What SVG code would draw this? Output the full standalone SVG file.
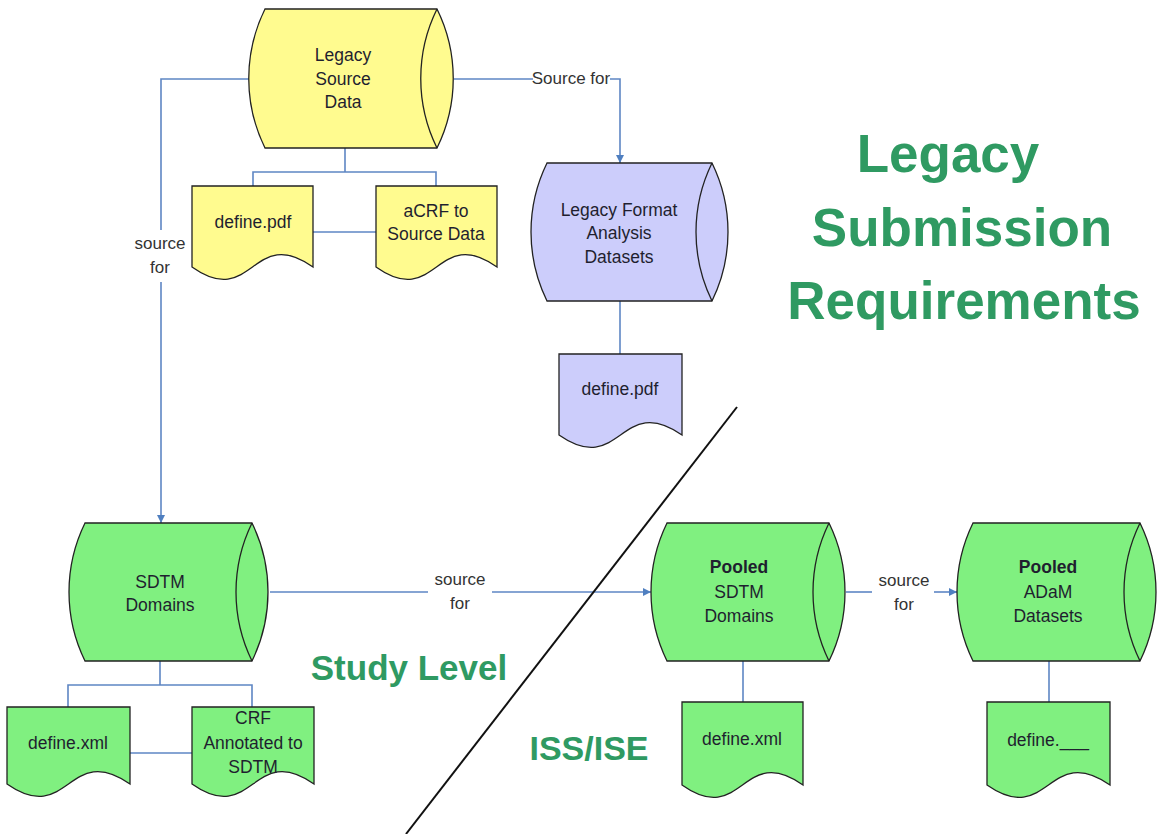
<svg xmlns="http://www.w3.org/2000/svg" width="1157" height="834" viewBox="0 0 1157 834">
<defs>
<marker id="arr" viewBox="0 0 10 10" refX="10" refY="5" markerWidth="8" markerHeight="8" markerUnits="userSpaceOnUse" orient="auto"><path d="M0,0 L10,5 L0,10 Z" fill="#4f7fc0"/></marker>
<style>
.shape{stroke:#222;stroke-width:1.3}
.yel{fill:#fffb8f}
.pur{fill:#cccdfb}
.grn{fill:#80f080}
.inner{fill:none;stroke:#222;stroke-width:1.3}
.con{fill:none;stroke:#5e86c4;stroke-width:1.6}
.t{font-family:"Liberation Sans",Arial,sans-serif;font-size:17.5px;fill:#1f1f2f;text-anchor:middle}
.b{font-weight:bold}
.lbl{font-family:"Liberation Sans",Arial,sans-serif;font-size:17px;fill:#333;text-anchor:middle}
.big{font-family:"Liberation Sans",Arial,sans-serif;font-weight:bold;fill:#2f9a62;text-anchor:middle}
</style>
</defs>
<rect width="1157" height="834" fill="#fff"/>

<g id="connectors">
<path class="con" d="M250,79 H161 V230"/>
<path class="con" d="M161,282 V523" marker-end="url(#arr)"/>
<path class="con" d="M454,79 H533"/>
<path class="con" d="M610,79 H620 V163" marker-end="url(#arr)"/>
<path class="con" d="M345,148 V172 M253,186 V172 H436 V186"/>
<path class="con" d="M313,232 H376"/>
<path class="con" d="M620,301 V354"/>
<path class="con" d="M160,661 V685 M68,707 V685 H252 V707"/>
<path class="con" d="M130,753 H192"/>
<path class="con" d="M270,592 H428"/>
<path class="con" d="M492,592 H651" marker-end="url(#arr)"/>
<path class="con" d="M846,592 H872"/>
<path class="con" d="M934,592 H957" marker-end="url(#arr)"/>
<path class="con" d="M743,661 V702"/>
<path class="con" d="M1049,661 V702"/>
<text class="lbl" x="571" y="84">Source for</text>
<text class="lbl" x="160" y="249">source</text>
<text class="lbl" x="160" y="273">for</text>
<text class="lbl" x="460" y="585">source</text>
<text class="lbl" x="460" y="609">for</text>
<text class="lbl" x="904" y="586">source</text>
<text class="lbl" x="904" y="610">for</text>
</g>

<g id="legacy-source-data">
<path class="shape yel" d="M265,9 H437 A156.8,156.8 0 0 1 437,148 H265 A156.8,156.8 0 0 1 265,9 Z"/>
<path class="inner" d="M437,9 A156.8,156.8 0 0 0 437,148"/>
<text class="t" x="343" y="61">Legacy</text>
<text class="t" x="343" y="85">Source</text>
<text class="t" x="343" y="108">Data</text>
</g>

<g id="define-pdf-legacy">
<path class="shape yel" d="M192,186 H313 V267 C252.5,224 252.5,310 192,267 Z"/>
<text class="t" x="253" y="228">define.pdf</text>
</g>

<g id="acrf-source">
<path class="shape yel" d="M376,186 H497 V267 C436.5,224 436.5,310 376,267 Z"/>
<text class="t" x="436" y="217">aCRF to</text>
<text class="t" x="436" y="240">Source Data</text>
</g>

<g id="legacy-format-analysis">
<path class="shape pur" d="M547,163 H712 A156.8,156.8 0 0 1 712,301 H547 A156.8,156.8 0 0 1 547,163 Z"/>
<path class="inner" d="M712,163 A156.8,156.8 0 0 0 712,301"/>
<text class="t" x="619" y="216">Legacy Format</text>
<text class="t" x="619" y="239">Analysis</text>
<text class="t" x="619" y="263">Datasets</text>
</g>

<g id="define-pdf-analysis">
<path class="shape pur" d="M559,354 H682 V435 C620.5,392 620.5,478 559,435 Z"/>
<text class="t" x="620" y="395">define.pdf</text>
</g>

<g id="title">
<text class="big" x="948" y="172" font-size="53">Legacy</text>
<text class="big" x="962" y="246" font-size="53">Submission</text>
<text class="big" x="964" y="319" font-size="53">Requirements</text>
</g>

<g id="divider">
<line x1="737" y1="407" x2="406" y2="834" stroke="#111" stroke-width="2"/>
<text class="big" x="409" y="680" font-size="35">Study Level</text>
<text class="big" x="589" y="760" font-size="34">ISS/ISE</text>
</g>

<g id="sdtm-domains">
<path class="shape grn" d="M85,523 H252 A156.8,156.8 0 0 1 252,661 H85 A156.8,156.8 0 0 1 85,523 Z"/>
<path class="inner" d="M252,523 A156.8,156.8 0 0 0 252,661"/>
<text class="t" x="160" y="588">SDTM</text>
<text class="t" x="160" y="611">Domains</text>
</g>

<g id="define-xml-study">
<path class="shape grn" d="M7,707 H130 V784 C68.5,741 68.5,827 7,784 Z"/>
<text class="t" x="68" y="749">define.xml</text>
</g>

<g id="crf-annotated">
<path class="shape grn" d="M192,707 H314 V784 C253,741 253,827 192,784 Z"/>
<text class="t" x="253" y="724">CRF</text>
<text class="t" x="253" y="749">Annotated to</text>
<text class="t" x="253" y="773">SDTM</text>
</g>

<g id="pooled-sdtm">
<path class="shape grn" d="M667,523 H829 A156.8,156.8 0 0 1 829,661 H667 A156.8,156.8 0 0 1 667,523 Z"/>
<path class="inner" d="M829,523 A156.8,156.8 0 0 0 829,661"/>
<text class="t b" x="739" y="573">Pooled</text>
<text class="t" x="739" y="598">SDTM</text>
<text class="t" x="739" y="622">Domains</text>
</g>

<g id="define-xml-pooled">
<path class="shape grn" d="M682,702 H803 V785 C742.5,742 742.5,828 682,785 Z"/>
<text class="t" x="742" y="745">define.xml</text>
</g>

<g id="pooled-adam">
<path class="shape grn" d="M973,523 H1140 A156.8,156.8 0 0 1 1140,661 H973 A156.8,156.8 0 0 1 973,523 Z"/>
<path class="inner" d="M1140,523 A156.8,156.8 0 0 0 1140,661"/>
<text class="t b" x="1048" y="573">Pooled</text>
<text class="t" x="1048" y="598">ADaM</text>
<text class="t" x="1048" y="622">Datasets</text>
</g>

<g id="define-adam">
<path class="shape grn" d="M987,702 H1110 V785 C1048.5,742 1048.5,828 987,785 Z"/>
<text class="t" x="1048" y="746">define.___</text>
</g>
</svg>
